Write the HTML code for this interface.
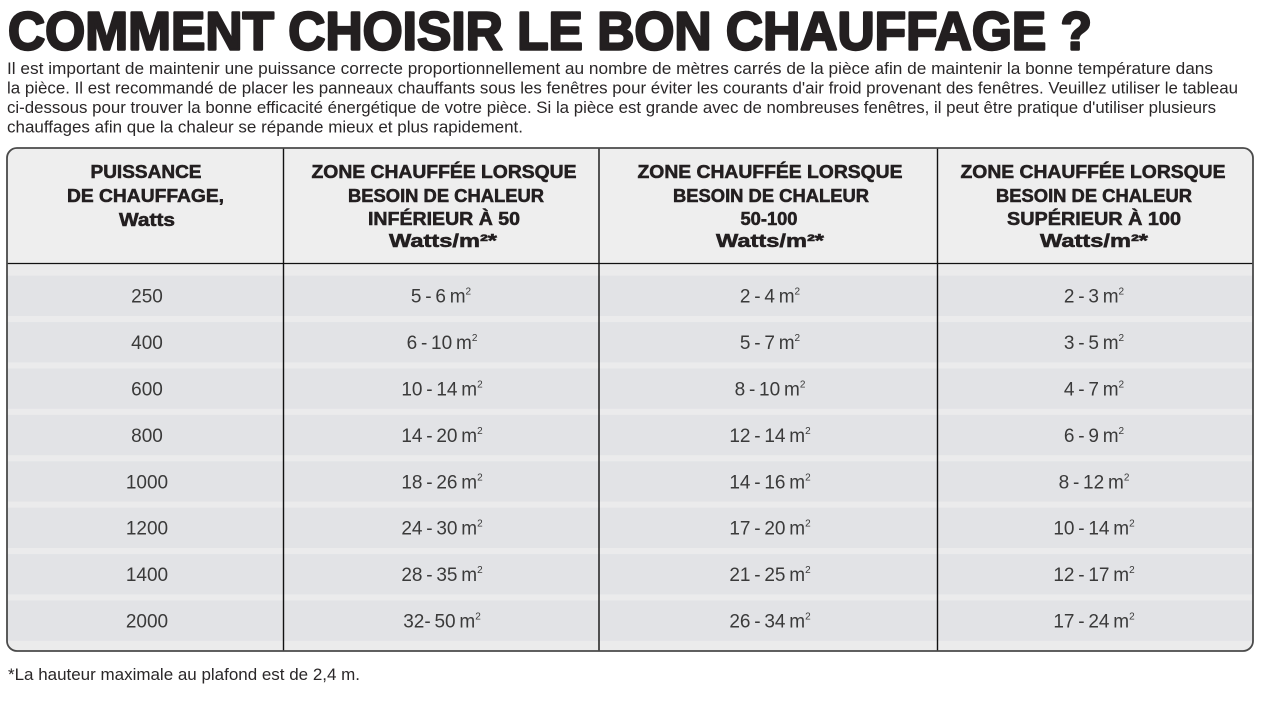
<!DOCTYPE html>
<html>
<head>
<meta charset="utf-8">
<style>
  html,body{margin:0;padding:0;background:#ffffff;}
  svg{display:block;}
  .t{font-family:"Liberation Sans",sans-serif;}
  .hd{font-family:"Liberation Sans",sans-serif;font-weight:bold;font-size:18px;fill:#231f20;stroke:#231f20;stroke-width:0.55;text-anchor:middle;}
  .pd{font-family:"Liberation Sans",sans-serif;font-size:16.5px;fill:#2a2728;}
  .dv{font-family:"Liberation Sans",sans-serif;font-size:19px;fill:#3a3a3a;text-anchor:middle;word-spacing:-1.5px;}
</style>
</head>
<body>
<svg width="1288" height="723" viewBox="0 0 1288 723" xmlns="http://www.w3.org/2000/svg">
  <defs>
    <clipPath id="tb">
      <rect x="7" y="148" width="1246" height="503" rx="10" ry="10"/>
    </clipPath>
  </defs>
  <rect x="0" y="0" width="1288" height="723" fill="#ffffff"/>

  <!-- Title -->
  <text class="t" x="8" y="49.5" font-size="54" font-weight="bold" fill="#231f20" stroke="#231f20" stroke-width="2.4" stroke-linejoin="round" textLength="1084" lengthAdjust="spacingAndGlyphs">COMMENT CHOISIR LE BON CHAUFFAGE ?</text>

  <!-- Paragraph -->
  <text class="pd" x="7" y="74" textLength="1206" lengthAdjust="spacingAndGlyphs">Il est important de maintenir une puissance correcte proportionnellement au nombre de mètres carrés de la pièce afin de maintenir la bonne température dans</text>
  <text class="pd" x="7" y="93.5" textLength="1231" lengthAdjust="spacingAndGlyphs">la pièce. Il est recommandé de placer les panneaux chauffants sous les fenêtres pour éviter les courants d'air froid provenant des fenêtres. Veuillez utiliser le tableau</text>
  <text class="pd" x="7" y="113" textLength="1209" lengthAdjust="spacingAndGlyphs">ci-dessous pour trouver la bonne efficacité énergétique de votre pièce. Si la pièce est grande avec de nombreuses fenêtres, il peut être pratique d'utiliser plusieurs</text>
  <text class="pd" x="7" y="132.5" textLength="516" lengthAdjust="spacingAndGlyphs">chauffages afin que la chaleur se répande mieux et plus rapidement.</text>

  <!-- Table backgrounds -->
  <g clip-path="url(#tb)">
    <rect x="7" y="148" width="1246" height="115" fill="#eeeeee"/>
    <rect x="7" y="263" width="1246" height="388" fill="#ebebec"/>
    <rect x="7" y="275.7" width="1246" height="40.3" fill="#e2e3e6"/>
    <rect x="7" y="322.1" width="1246" height="40.3" fill="#e2e3e6"/>
    <rect x="7" y="368.5" width="1246" height="40.3" fill="#e2e3e6"/>
    <rect x="7" y="414.9" width="1246" height="40.3" fill="#e2e3e6"/>
    <rect x="7" y="461.3" width="1246" height="40.3" fill="#e2e3e6"/>
    <rect x="7" y="507.7" width="1246" height="40.3" fill="#e2e3e6"/>
    <rect x="7" y="554.1" width="1246" height="40.3" fill="#e2e3e6"/>
    <rect x="7" y="600.5" width="1246" height="40.3" fill="#e2e3e6"/>
  </g>

  <!-- Grid lines -->
  <line x1="7" y1="263.5" x2="1253" y2="263.5" stroke="#111" stroke-width="1.3"/>
  <line x1="283.5" y1="148" x2="283.5" y2="651" stroke="#111" stroke-width="1.4"/>
  <line x1="599" y1="148" x2="599" y2="651" stroke="#111" stroke-width="1.4"/>
  <line x1="937.5" y1="148" x2="937.5" y2="651" stroke="#111" stroke-width="1.4"/>
  <rect x="7" y="148" width="1246" height="503" rx="10" ry="10" fill="none" stroke="#4a4a4a" stroke-width="1.8"/>

  <!-- Header col 1 -->
  <text class="hd" x="146" y="178" textLength="111" lengthAdjust="spacingAndGlyphs">PUISSANCE</text>
  <text class="hd" x="145.5" y="202" textLength="157" lengthAdjust="spacingAndGlyphs">DE CHAUFFAGE,</text>
  <text class="hd" x="147" y="226" textLength="56" lengthAdjust="spacingAndGlyphs">Watts</text>

  <!-- Header col 2 -->
  <text class="hd" x="444" y="178" textLength="265" lengthAdjust="spacingAndGlyphs">ZONE CHAUFFÉE LORSQUE</text>
  <text class="hd" x="446" y="202" textLength="196" lengthAdjust="spacingAndGlyphs">BESOIN DE CHALEUR</text>
  <text class="hd" x="444" y="225" textLength="152" lengthAdjust="spacingAndGlyphs">INFÉRIEUR À 50</text>
  <text class="hd" x="443" y="247" textLength="108" lengthAdjust="spacingAndGlyphs">Watts/m²*</text>

  <!-- Header col 3 -->
  <text class="hd" x="770" y="178" textLength="265" lengthAdjust="spacingAndGlyphs">ZONE CHAUFFÉE LORSQUE</text>
  <text class="hd" x="771" y="202" textLength="196" lengthAdjust="spacingAndGlyphs">BESOIN DE CHALEUR</text>
  <text class="hd" x="769" y="225" textLength="57" lengthAdjust="spacingAndGlyphs">50-100</text>
  <text class="hd" x="770" y="247" textLength="108" lengthAdjust="spacingAndGlyphs">Watts/m²*</text>

  <!-- Header col 4 -->
  <text class="hd" x="1093" y="178" textLength="265" lengthAdjust="spacingAndGlyphs">ZONE CHAUFFÉE LORSQUE</text>
  <text class="hd" x="1094" y="202" textLength="196" lengthAdjust="spacingAndGlyphs">BESOIN DE CHALEUR</text>
  <text class="hd" x="1094" y="225" textLength="174" lengthAdjust="spacingAndGlyphs">SUPÉRIEUR À 100</text>
  <text class="hd" x="1094" y="247" textLength="108" lengthAdjust="spacingAndGlyphs">Watts/m²*</text>

  <!-- Data rows -->
  <g>
    <text class="dv" x="147" y="302.7">250</text>
    <text class="dv" x="441" y="302.7">5 - 6 m<tspan font-size="10" dy="-8">2</tspan></text>
    <text class="dv" x="770" y="302.7">2 - 4 m<tspan font-size="10" dy="-8">2</tspan></text>
    <text class="dv" x="1094" y="302.7">2 - 3 m<tspan font-size="10" dy="-8">2</tspan></text>

    <text class="dv" x="147" y="349.1">400</text>
    <text class="dv" x="442" y="349.1">6 - 10 m<tspan font-size="10" dy="-8">2</tspan></text>
    <text class="dv" x="770" y="349.1">5 - 7 m<tspan font-size="10" dy="-8">2</tspan></text>
    <text class="dv" x="1094" y="349.1">3 - 5 m<tspan font-size="10" dy="-8">2</tspan></text>

    <text class="dv" x="147" y="395.5">600</text>
    <text class="dv" x="442" y="395.5">10 - 14 m<tspan font-size="10" dy="-8">2</tspan></text>
    <text class="dv" x="770" y="395.5">8 - 10 m<tspan font-size="10" dy="-8">2</tspan></text>
    <text class="dv" x="1094" y="395.5">4 - 7 m<tspan font-size="10" dy="-8">2</tspan></text>

    <text class="dv" x="147" y="441.9">800</text>
    <text class="dv" x="442" y="441.9">14 - 20 m<tspan font-size="10" dy="-8">2</tspan></text>
    <text class="dv" x="770" y="441.9">12 - 14 m<tspan font-size="10" dy="-8">2</tspan></text>
    <text class="dv" x="1094" y="441.9">6 - 9 m<tspan font-size="10" dy="-8">2</tspan></text>

    <text class="dv" x="147" y="488.3">1000</text>
    <text class="dv" x="442" y="488.3">18 - 26 m<tspan font-size="10" dy="-8">2</tspan></text>
    <text class="dv" x="770" y="488.3">14 - 16 m<tspan font-size="10" dy="-8">2</tspan></text>
    <text class="dv" x="1094" y="488.3">8 - 12 m<tspan font-size="10" dy="-8">2</tspan></text>

    <text class="dv" x="147" y="534.7">1200</text>
    <text class="dv" x="442" y="534.7">24 - 30 m<tspan font-size="10" dy="-8">2</tspan></text>
    <text class="dv" x="770" y="534.7">17 - 20 m<tspan font-size="10" dy="-8">2</tspan></text>
    <text class="dv" x="1094" y="534.7">10 - 14 m<tspan font-size="10" dy="-8">2</tspan></text>

    <text class="dv" x="147" y="581.1">1400</text>
    <text class="dv" x="442" y="581.1">28 - 35 m<tspan font-size="10" dy="-8">2</tspan></text>
    <text class="dv" x="770" y="581.1">21 - 25 m<tspan font-size="10" dy="-8">2</tspan></text>
    <text class="dv" x="1094" y="581.1">12 - 17 m<tspan font-size="10" dy="-8">2</tspan></text>

    <text class="dv" x="147" y="627.5">2000</text>
    <text class="dv" x="442" y="627.5">32- 50 m<tspan font-size="10" dy="-8">2</tspan></text>
    <text class="dv" x="770" y="627.5">26 - 34 m<tspan font-size="10" dy="-8">2</tspan></text>
    <text class="dv" x="1094" y="627.5">17 - 24 m<tspan font-size="10" dy="-8">2</tspan></text>
  </g>

  <!-- Footnote -->
  <text class="pd" x="8" y="680" textLength="352" lengthAdjust="spacingAndGlyphs">*La hauteur maximale au plafond est de 2,4 m.</text>
</svg>
</body>
</html>
